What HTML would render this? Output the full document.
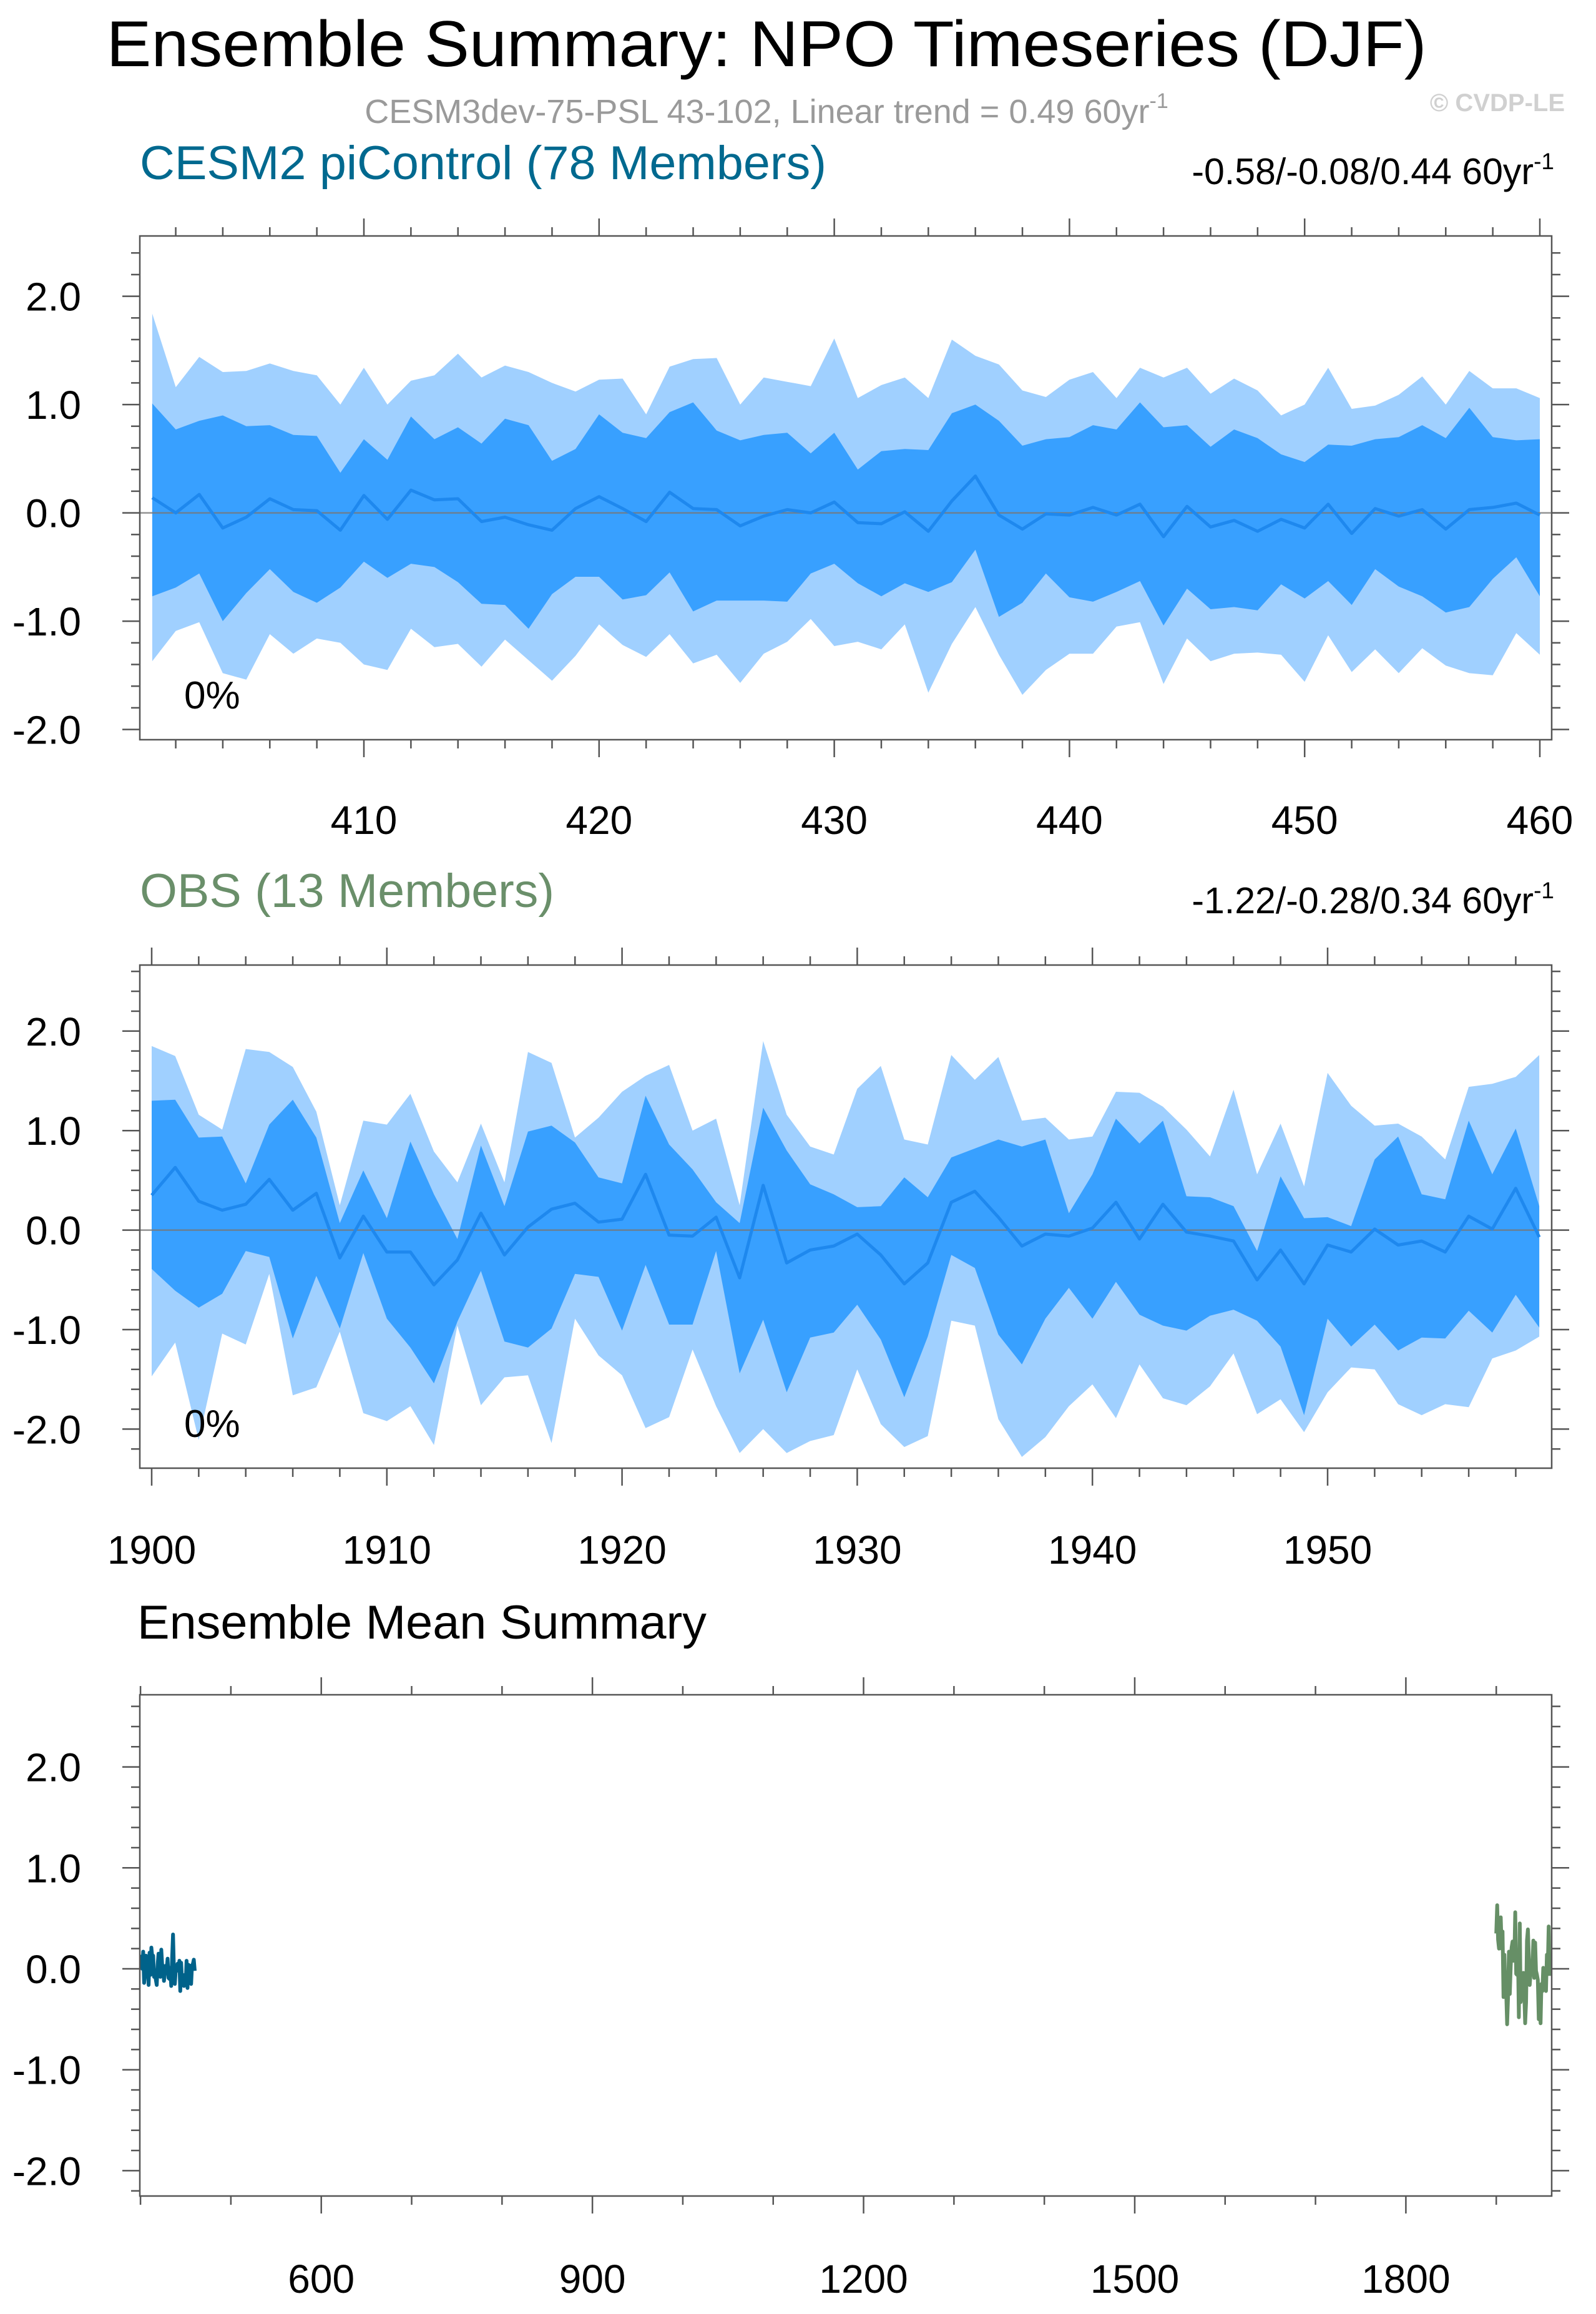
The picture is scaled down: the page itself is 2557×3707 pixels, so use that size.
<!DOCTYPE html>
<html><head><meta charset="utf-8"><style>
html,body{margin:0;padding:0;background:#fff}
svg{display:block}
text{font-family:"Liberation Sans",Arial,sans-serif}
</style></head><body>
<svg id="chart" xmlns="http://www.w3.org/2000/svg" width="2557" height="3707" viewBox="0 0 2557 3707">
<text x="1228" y="106" font-size="104" text-anchor="middle" textLength="2115" lengthAdjust="spacingAndGlyphs">Ensemble Summary: NPO Timeseries (DJF)</text>
<text x="1228" y="197" font-size="54" fill="#9a9a9a" text-anchor="middle">CESM3dev-75-PSL 43-102, Linear trend = 0.49 60yr<tspan font-size="34" dy="-24">-1</tspan></text>
<text x="2507" y="178" font-size="40" fill="#d0d0d0" font-weight="bold" text-anchor="end">© CVDP-LE</text>
<text x="224" y="287" font-size="76" fill="#00698f" textLength="1100" lengthAdjust="spacingAndGlyphs">CESM2 piControl (78 Members)</text>
<text x="2490" y="295" font-size="59" text-anchor="end">-0.58/-0.08/0.44 60yr<tspan font-size="37" dy="-24">-1</tspan></text>
<text x="224" y="1453" font-size="76" fill="#6a8f6a" textLength="664" lengthAdjust="spacingAndGlyphs">OBS (13 Members)</text>
<text x="2490" y="1463" font-size="59" text-anchor="end">-1.22/-0.28/0.34 60yr<tspan font-size="37" dy="-24">-1</tspan></text>
<text x="220" y="2625" font-size="76" textLength="912" lengthAdjust="spacingAndGlyphs">Ensemble Mean Summary</text>
</svg>
<script>
// ---- Data ----
const cesmYears0 = 401;
const cesmUpper90 = [1.84,1.16,1.44,1.30,1.31,1.38,1.31,1.27,1.00,1.34,1.00,1.22,1.27,1.47,1.25,1.36,1.30,1.20,1.12,1.23,1.24,0.91,1.35,1.42,1.43,1.00,1.25,1.21,1.17,1.61,
1.06,1.18,1.25,1.06,1.60,1.45,1.37,1.13,1.07,1.23,1.30,1.06,1.34,1.25,1.34,1.10,1.24,1.13,0.90,1.00,1.34,0.96,0.99,1.09,1.26,1.00,1.31,1.15,1.15,1.06];
const cesmUpper75 = [1.01,0.77,0.85,0.90,0.80,0.81,0.72,0.71,0.37,0.68,0.49,0.89,0.68,0.79,0.64,0.87,0.81,0.48,0.59,0.91,0.74,0.69,0.93,1.02,0.76,0.67,0.72,0.74,0.55,0.74,
0.40,0.57,0.59,0.58,0.92,1.00,0.85,0.62,0.68,0.70,0.81,0.77,1.02,0.79,0.81,0.61,0.77,0.69,0.54,0.47,0.63,0.62,0.68,0.70,0.81,0.69,0.97,0.70,0.67,0.68];
const cesmMean = [0.14,0.00,0.17,-0.14,-0.04,0.13,0.03,0.02,-0.16,0.16,-0.06,0.21,0.12,0.13,-0.08,-0.04,-0.11,-0.16,0.04,0.15,0.04,-0.08,0.19,0.04,0.03,-0.12,-0.03,0.03,0.00,0.10,
-0.09,-0.10,0.01,-0.17,0.11,0.34,-0.02,-0.15,-0.01,-0.02,0.05,-0.02,0.08,-0.22,0.06,-0.13,-0.07,-0.17,-0.06,-0.14,0.08,-0.19,0.04,-0.03,0.03,-0.15,0.03,0.05,0.09,-0.02];
const cesmLower25 = [-0.77,-0.69,-0.56,-1.00,-0.74,-0.52,-0.73,-0.83,-0.69,-0.45,-0.60,-0.47,-0.50,-0.64,-0.84,-0.85,-1.07,-0.75,-0.59,-0.59,-0.80,-0.76,-0.55,-0.91,-0.81,-0.81,-0.81,-0.82,-0.56,-0.47,
-0.65,-0.77,-0.65,-0.73,-0.64,-0.34,-0.96,-0.83,-0.56,-0.78,-0.82,-0.73,-0.63,-1.04,-0.70,-0.89,-0.87,-0.90,-0.66,-0.79,-0.63,-0.85,-0.52,-0.68,-0.77,-0.92,-0.87,-0.61,-0.41,-0.77];
const cesmLower10 = [-1.37,-1.09,-1.01,-1.48,-1.54,-1.12,-1.30,-1.16,-1.20,-1.40,-1.45,-1.07,-1.24,-1.21,-1.42,-1.17,-1.36,-1.55,-1.32,-1.03,-1.22,-1.33,-1.12,-1.39,-1.31,-1.57,-1.30,-1.19,-0.98,-1.23,
-1.19,-1.26,-1.03,-1.66,-1.21,-0.87,-1.31,-1.68,-1.45,-1.30,-1.30,-1.05,-1.01,-1.58,-1.16,-1.37,-1.30,-1.29,-1.31,-1.56,-1.13,-1.47,-1.26,-1.48,-1.25,-1.41,-1.48,-1.50,-1.11,-1.31];

const obsYears0 = 1900;
const obsUpper90 = [1.85,1.75,1.16,1.01,1.82,1.79,1.64,1.19,0.25,1.10,1.06,1.37,0.79,0.48,1.07,0.48,1.79,1.68,0.93,1.13,1.39,1.55,1.66,1.00,1.12,0.25,1.90,1.16,0.84,0.76,
1.42,1.65,0.91,0.86,1.76,1.51,1.74,1.10,1.13,0.91,0.94,1.39,1.38,1.24,1.01,0.74,1.41,0.56,1.07,0.44,1.58,1.25,1.05,1.07,0.94,0.71,1.44,1.47,1.54,1.76];
const obsUpper75 = [1.30,1.31,0.93,0.94,0.47,1.06,1.31,0.93,0.07,0.60,0.12,0.89,0.36,-0.09,0.85,0.24,0.99,1.05,0.88,0.53,0.47,1.35,0.86,0.61,0.28,0.07,1.23,0.80,0.46,0.36,
0.23,0.24,0.53,0.33,0.73,0.82,0.91,0.84,0.91,0.17,0.56,1.12,0.87,1.10,0.34,0.33,0.24,-0.21,0.54,0.12,0.13,0.04,0.71,0.94,0.36,0.31,1.10,0.56,1.02,0.24];
const obsMean = [0.35,0.63,0.29,0.20,0.26,0.51,0.20,0.37,-0.28,0.14,-0.22,-0.22,-0.55,-0.30,0.17,-0.25,0.03,0.21,0.27,0.08,0.11,0.56,-0.05,-0.06,0.13,-0.48,0.45,-0.33,-0.20,-0.16,
-0.04,-0.25,-0.54,-0.33,0.28,0.39,0.13,-0.16,-0.04,-0.06,0.02,0.28,-0.09,0.26,-0.02,-0.06,-0.11,-0.50,-0.20,-0.54,-0.15,-0.22,0.01,-0.15,-0.11,-0.22,0.14,0.01,0.42,-0.07];
const obsLower25 = [-0.39,-0.61,-0.78,-0.64,-0.21,-0.27,-1.09,-0.46,-0.99,-0.23,-0.89,-1.18,-1.54,-0.92,-0.41,-1.12,-1.18,-0.99,-0.44,-0.47,-1.01,-0.35,-0.95,-0.95,-0.21,-1.44,-0.90,-1.63,-1.08,-1.03,
-0.75,-1.10,-1.68,-1.07,-0.25,-0.38,-1.05,-1.35,-0.89,-0.58,-0.89,-0.52,-0.85,-0.96,-1.01,-0.86,-0.80,-0.91,-1.17,-1.86,-0.89,-1.17,-0.95,-1.21,-1.08,-1.09,-0.81,-1.03,-0.65,-0.98];
const obsLower10 = [-1.47,-1.13,-2.11,-1.04,-1.15,-0.44,-1.66,-1.58,-1.02,-1.84,-1.92,-1.77,-2.16,-0.96,-1.76,-1.48,-1.46,-2.14,-0.89,-1.26,-1.46,-1.99,-1.88,-1.20,-1.77,-2.24,-2.00,-2.24,-2.12,-2.06,
-1.40,-1.95,-2.18,-2.07,-0.91,-0.96,-1.90,-2.28,-2.08,-1.77,-1.55,-1.89,-1.35,-1.69,-1.76,-1.57,-1.24,-1.85,-1.70,-2.03,-1.63,-1.38,-1.40,-1.75,-1.86,-1.75,-1.78,-1.29,-1.21,-1.07];

const yTickValues = [2,1,0,-1,-2];
const yTickLabels = ["2.0","1.0","0.0","-1.0","-2.0"];
const p1XTicks = [410,420,430,440,450,460];
const p2XTicks = [1900,1910,1920,1930,1940,1950];
const p3XTicks = [600,900,1200,1500,1800];

// ---- Drawing ----
const NS = "http://www.w3.org/2000/svg";
const svg = document.getElementById("chart");
function mk(tag, attrs, parent) {
  const e = document.createElementNS(NS, tag);
  for (const k in attrs) e.setAttribute(k, attrs[k]);
  (parent || svg).appendChild(e);
  return e;
}
function scaleLin(d0, d1, r0, r1) { return v => r0 + (v - d0) * (r1 - r0) / (d1 - d0); }

const L = 224, R = 2486;
const panels = [
  {name:"panel1", top:378, bot:1185, y:scaleLin(0,1,821.6,648.1), x:scaleLin(410,460,583,2467), xt:p1XTicks, xmin:400, xmax:461, minorStep:2, labY:1336},
  {name:"panel2", top:1546, bot:2352, y:scaleLin(0,1,1970.6,1811.2), x:scaleLin(1900,1950,243,2127), xt:p2XTicks, xmin:1899, xmax:1961, minorStep:2, labY:2505},
  {name:"panel3", top:2715, bot:3518, y:scaleLin(0,1,3154,2992.3), x:scaleLin(600,1800,514.7,2252.4), xt:p3XTicks, xmin:400, xmax:1960, minorStep:100, labY:3673}
];

function band(p, hi, lo, y0, color, nm) {
  let d = "";
  hi.forEach((v,i)=>{ d += (i?"L":"M") + p.x(y0+i).toFixed(1) + "," + p.y(v).toFixed(1); });
  for (let i = lo.length-1; i >= 0; i--) d += "L" + p.x(y0+i).toFixed(1) + "," + p.y(lo[i]).toFixed(1);
  const e = mk("path", {d: d+"Z", fill: color});
  
  
}
function line(p, vals, y0, color, w, nm) {
  const pts = vals.map((v,i)=>p.x(y0+i).toFixed(1)+","+p.y(v).toFixed(1)).join(" ");
  const e = mk("polyline", {points: pts, fill:"none", stroke:color, "stroke-width":w, "stroke-linejoin":"round"});
  
  
}
function axes(p) {
  const g = mk("g", {stroke:"#555", "stroke-width":2.5});
  
  
  for (let v = -2.4; v <= 2.61; v += 0.2) {
    const yy = p.y(Math.round(v*10)/10);
    if (yy < p.top || yy > p.bot) continue;
    const major = Math.abs(Math.round(v*10) % 10) === 0;
    const len = major ? 28 : 14;
    mk("line", {x1:L-len, x2:L, y1:yy, y2:yy}, g);
    mk("line", {x1:R, x2:R+len, y1:yy, y2:yy}, g);
  }
  for (let t = Math.ceil(p.xmin/p.minorStep)*p.minorStep; t <= p.xmax; t += p.minorStep) {
    const xx = p.x(t);
    if (xx < L || xx > R) continue;
    const major = p.xt.includes(t) || (p.name!=="panel3" && t%10===0);
    const len = major ? 28 : 14;
    mk("line", {x1:xx, x2:xx, y1:p.top-len, y2:p.top}, g);
    mk("line", {x1:xx, x2:xx, y1:p.bot, y2:p.bot+len}, g);
  }
  const b = mk("rect", {x:L, y:p.top, width:R-L, height:p.bot-p.top, fill:"none", stroke:"#555", "stroke-width":2.5});
  
  
  yTickValues.forEach((v,i)=>{
    const t = mk("text", {x:130, y:p.y(v)+23, "font-size":64, "text-anchor":"end"});
    t.textContent = yTickLabels[i];
    
    
  });
  p.xt.forEach(v=>{
    const t = mk("text", {x:p.x(v), y:p.labY, "font-size":64, "text-anchor":"middle"});
    t.textContent = String(v);
    
    
  });
}
function zeroLine(p) {
  const e = mk("line", {x1:L, x2:R, y1:p.y(0), y2:p.y(0), stroke:"#777", "stroke-width":2.5, "stroke-opacity":0.8});
  
  
}
function pct(p) {
  const t = mk("text", {x:295, y:p.bot-50, "font-size":62});
  t.textContent = "0%";
  
  
}

const LIGHT = "#a0d0ff", DARK = "#38a0ff", MEANC = "#1e88ee";
const p1 = panels[0];
band(p1, cesmUpper90, cesmLower10, cesmYears0, LIGHT, "cesm-outer-spread-band");
band(p1, cesmUpper75, cesmLower25, cesmYears0, DARK, "cesm-inner-spread-band");
zeroLine(p1);
line(p1, cesmMean, cesmYears0, MEANC, 5, "cesm-ensemble-mean-line");
pct(p1);
axes(p1);
const p2 = panels[1];
band(p2, obsUpper90, obsLower10, obsYears0, LIGHT, "obs-outer-spread-band");
band(p2, obsUpper75, obsLower25, obsYears0, DARK, "obs-inner-spread-band");
zeroLine(p2);
line(p2, obsMean, obsYears0, MEANC, 5, "obs-ensemble-mean-line");
pct(p2);
axes(p2);
const p3 = panels[2];
line(p3, cesmMean, cesmYears0, "#00628a", 6, "cesm-mean-summary-line");
line(p3, obsMean, obsYears0, "#668f66", 6, "obs-mean-summary-line");
axes(p3);
</script>
</body></html>
